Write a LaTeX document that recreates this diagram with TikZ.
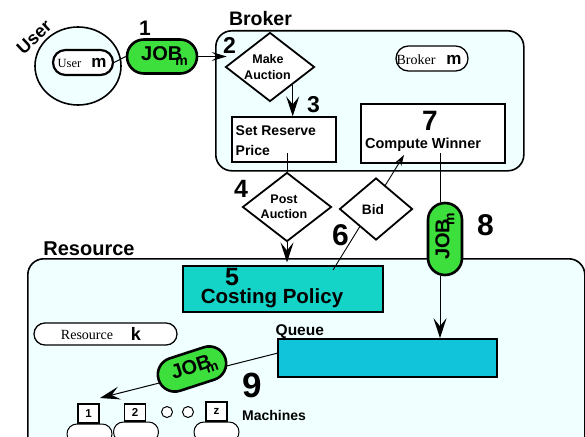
\documentclass[tikz,border=0pt]{standalone}
\usepackage{fontspec}
\setmainfont{Liberation Sans}
\newfontfamily\seriffont{Liberation Serif}
\usetikzlibrary{shapes.geometric,arrows.meta}
\definecolor{azurebg}{HTML}{F0FFFF}
\definecolor{jobgreen}{HTML}{3CDF3C}
\definecolor{costteal}{HTML}{14D4C8}
\definecolor{queueblue}{HTML}{12C4DA}
\newcommand\fsz[1]{\fontsize{#1}{#1}\selectfont}
\newcommand\jobtext{{\bfseries\fsz{20}\kern5pt JOB\kern-7pt\raisebox{-5pt}{\fsz{14}m}}}
\begin{document}
\begin{tikzpicture}[x=1pt,y=-1pt,
  region/.style={draw, line width=1.6pt, rounded corners=16pt, fill=azurebg, inner sep=0pt},
  pill/.style={draw, line width=2.6pt, fill=jobgreen, rounded corners=16.9pt, inner sep=0pt, minimum width=70pt, minimum height=34pt},
  tagbox/.style={draw, line width=1.3pt, fill=white, inner sep=0pt},
  dia/.style={diamond, draw, line width=1.8pt, fill=white, inner sep=0pt},
  plainbox/.style={draw, line width=1.2pt, inner sep=0pt},
  num/.style={font=\bfseries\fsz{#1}, inner sep=0pt, anchor=base},
  lbl/.style={font=\bfseries\fsz{#1}, inner sep=0pt, anchor=base},
  conn/.style={line width=1pt},
  arr/.style={line width=1pt, -{Stealth[length=20pt,width=13pt,inset=8pt]}},
  arrmid/.style={line width=1pt, -{Stealth[length=15pt,width=9pt,inset=6pt]}},
  arrsmall/.style={line width=0.9pt, -{Stealth[length=11pt,width=7pt,inset=4pt]}},
  mbox/.style={draw, line width=1.2pt, fill=white, minimum width=21pt, minimum height=19pt, inner sep=0pt, font=\bfseries\fsz{11.5}},
  mbase/.style={draw, line width=1pt, fill=white, minimum width=45pt, minimum height=20pt, rounded corners=9.9pt, inner sep=0pt},
  dot/.style={circle, draw, line width=1pt, fill=white, minimum size=11pt, inner sep=0pt},
]
\useasboundingbox (0,0) rectangle (585,436);
\clip (0,0) rectangle (585,436);

% regions
\node[region, minimum width=557pt, minimum height=210pt, anchor=north west] (resource) at (27,258) {};
\node[region, minimum width=308pt, minimum height=140pt, anchor=north west] (broker) at (215,30) {};
\node[lbl=19.5] (brokerlbl) at (260.5,26) {Broker};
\node[lbl=20] (resourcelbl) at (89,255) {Resource};

% user
\node[ellipse, draw, line width=1.6pt, fill=azurebg, minimum width=86pt, minimum height=78pt, inner sep=0pt] (user) at (78,66) {};
\node[font=\bfseries\fsz{18}, inner sep=0pt, rotate=43] (userlbl) at (34,37) {User};

% tags
\node[tagbox, line width=2.2pt, minimum width=60pt, minimum height=25pt, rounded corners=12.4pt] (userm) at (83,62.5) {};
\node[lbl=12, font=\seriffont\fsz{12.5}] (usermtxt) at (69.5,67) {User};
\node[lbl=17] (usermm) at (99,67) {m};
\node[tagbox, minimum width=72pt, minimum height=25pt, rounded corners=12.4pt] (brokerm) at (432,58.5) {};
\node[lbl=14, font=\seriffont\fsz{14}] (brokermtxt) at (416,64) {Broker};
\node[lbl=17] (brokermm) at (454,64) {m};
\node[tagbox, minimum width=143pt, minimum height=22pt, rounded corners=10.9pt] (resk) at (105.5,334) {};
\node[lbl=14, font=\seriffont\fsz{14}] (resktxt) at (87,339.5) {Resource};
\node[lbl=18] (reskk) at (136,340) {k};

% boxes
\node[plainbox, fill=white, minimum width=104pt, minimum height=45pt] (setres) at (284,139.5) {};
\node[lbl=14, anchor=base west] (setrestxt1) at (235.5,135) {Set Reserve};
\node[lbl=14, anchor=base west] (setrestxt2) at (235.5,155.5) {Price};
\node[plainbox, fill=white, minimum width=144pt, minimum height=59pt] (compute) at (433,133.5) {};
\node[lbl=14.5] (computetxt) at (423,148) {Compute Winner};
\node[plainbox, fill=costteal, minimum width=200pt, minimum height=46pt] (costing) at (283,289) {};
\node[lbl=20.5] (costingtxt) at (272,303.5) {Costing Policy};
\node[plainbox, line width=1.6pt, fill=queueblue, minimum width=219pt, minimum height=38pt] (queue) at (387.5,358) {};
\node[lbl=15.5, anchor=base west] (queuetxt) at (275.5,335) {Queue};

% machines
\node[mbase] (b1) at (89.5,434) {};
\node[mbox] (m1) at (88.5,413.5) {1};
\node[mbase] (b2) at (136,432) {};
\node[mbox, minimum height=17pt] (m2) at (135,412.5) {2};
\node[dot] (d1) at (167,412) {};
\node[dot] (d2) at (188,412) {};
\node[mbase] (bz) at (216.5,432) {};
\node[mbox] (mz) at (216.5,411.5) {z};
\node[lbl=14, anchor=base west] (machtxt) at (242,420) {Machines};

% connectors
\coordinate (srout) at (287,153);
\coordinate (bidin) at (333,270);
\coordinate (bidout) at (404,155);
\coordinate (cwout) at (440,153);
\coordinate (qout) at (278,353);
\coordinate (m1in) at (100,398);

\node[pill] (job1) at (162,56.5) {\jobtext};
\node[dia, minimum width=89pt, minimum height=69pt] (makeauc) at (270,67) {};
\node[dia, minimum width=89pt, minimum height=69pt] (postauc) at (287,207) {};

\draw[conn] (userm.east) -- (job1.west);
\draw[arrmid] (job1.east) -- ([xshift=2pt]job1.east -| makeauc.west);
\draw[arr] (makeauc.south east) -- (makeauc.south east |- setres.north);
\draw[conn] (srout) -- (postauc.north);
\draw[arr] (postauc.south) -- ([yshift=3pt]postauc.south |- costing.north);
\draw[arrsmall] (bidin) -- (bidout);
\node[pill, rotate=90, minimum width=72pt] (job8) at (445,239) {\jobtext};
\draw[conn] (cwout) -- (cwout |- job8.east);
\draw[arr] (cwout |- job8.west) -- (cwout |- queue.north);
\draw[arr] (qout) -- (m1in);

\node[dia, minimum width=73pt, minimum height=62pt] (bid) at (376,209) {};
\node[pill, rotate=18] (job9) at (192,369) {\jobtext};

% diamond texts
\node[lbl=12.5] (ma1) at (268,63.3) {Make};
\node[lbl=12.5] (ma2) at (267.5,79) {Auction};
\node[lbl=12.5] (pa1) at (284,203) {Post};
\node[lbl=12.5] (pa2) at (284,218) {Auction};
\node[lbl=13.7] (bidtxt) at (373,214) {Bid};

% step numbers
\node[num=21] (n1) at (145,35) {1};
\node[num=23] (n2) at (229.5,53) {2};
\node[num=23] (n3) at (313.5,112) {3};
\node[num=25] (n4) at (241,197) {4};
\node[num=25] (n5) at (232,285) {5};
\node[num=30] (n6) at (340.5,245) {6};
\node[num=28] (n7) at (430,130) {7};
\node[num=30] (n8) at (485.5,235) {8};
\node[num=35] (n9) at (252.5,397) {9};
\end{tikzpicture}
\end{document}
